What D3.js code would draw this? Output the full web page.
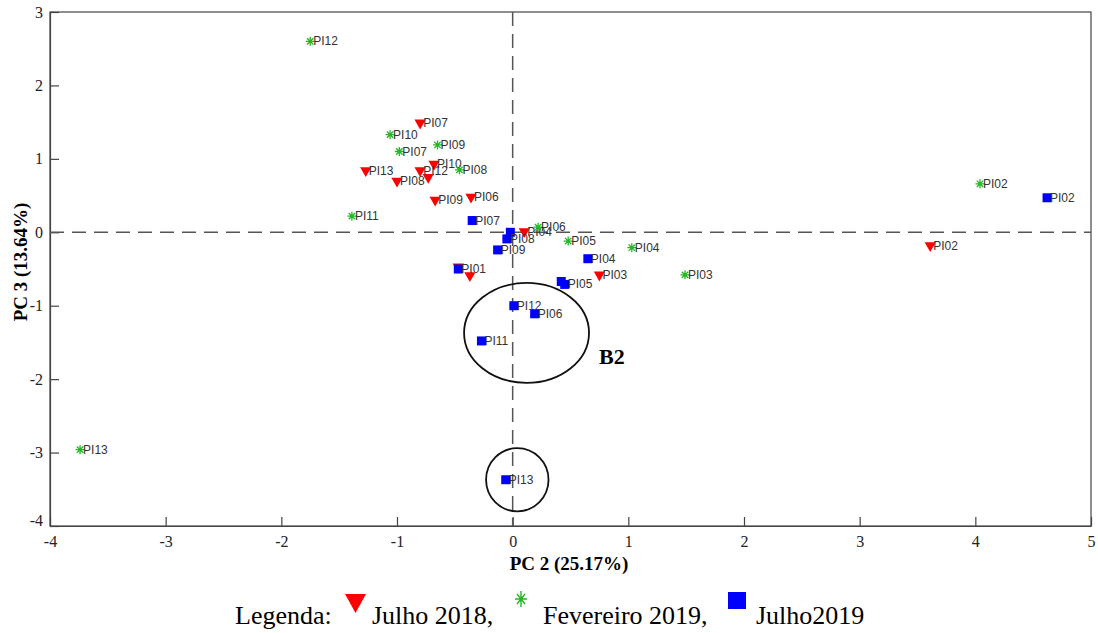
<!DOCTYPE html>
<html>
<head>
<meta charset="utf-8">
<script src="https://cdn.jsdelivr.net/npm/d3@7"></script>
<style>
  body { margin: 0; background: #fff; }
  text { font-family: "Liberation Serif", "Times New Roman", serif; }
  .lbl { font-family: "Liberation Sans", Arial, sans-serif; font-size: 12px; fill: #333; }
</style>
</head>
<body>
<div id="content"></div>
<script>
// PC2 / PC3 scores
var julho2018Names = ["PI01", "PI02", "PI03", "PI04", "PI05", "PI06", "PI07", "PI08", "PI09", "PI10", "PI11", "PI12", "PI13"];
var julho2018X = [-0.47, 3.61, 0.75, 0.10, -0.37, -0.36, -0.80, -1.00, -0.67, -0.68, -0.73, -0.80, -1.27];
var julho2018Y = [-0.47, -0.18, -0.58, 0.01, -0.59, 0.48, 1.49, 0.70, 0.44, 0.93, 0.75, 0.84, 0.84];
var julho2018Shown = [false, true, true, true, false, true, true, true, true, true, false, true, true];

var fev2019Names = ["PI02", "PI03", "PI04", "PI05", "PI06", "PI07", "PI08", "PI09", "PI10", "PI11", "PI12", "PI13"];
var fev2019X = [4.04, 1.49, 1.03, 0.48, 0.22, -0.98, -0.46, -0.65, -1.06, -1.39, -1.75, -3.74];
var fev2019Y = [0.66, -0.58, -0.21, -0.12, 0.07, 1.10, 0.85, 1.19, 1.33, 0.22, 2.60, -2.96];

var julho2019Names = ["PI01", "PI02", "PI03", "PI04", "PI05", "PI06", "PI07", "PI08", "PI09", "PI10", "PI11", "PI12", "PI13"];
var julho2019X = [-0.47, 4.62, 0.42, 0.65, 0.45, 0.19, -0.35, -0.05, -0.13, -0.02, -0.27, 0.01, -0.06];
var julho2019Y = [-0.50, 0.47, -0.67, -0.36, -0.71, -1.11, 0.16, -0.09, -0.24, 0.00, -1.48, -1.00, -3.37];
var julho2019Shown = [true, true, false, true, true, true, true, true, true, false, true, true, true];

var xTicks = [-4, -3, -2, -1, 0, 1, 2, 3, 4, 5];
var yTicks = [-4, -3, -2, -1, 0, 1, 2, 3];

// groups circled on the plot: [cx, cy, rx, ry] in data units
var groupNames = ["B2", ""];
var groupShapes = [[0.12, -1.37, 0.54, 0.68], [0.04, -3.37, 0.27, 0.43]];

var svg = d3.select("div#content").append("svg")
    .attr("width", 1098)
    .attr("height", 633);

var x = d3.scaleLinear().domain([-4, 5]).range([50, 1091]);
var y = d3.scaleLinear().domain([-4, 3]).range([526, 12]);

var fmt = function(d) { return String(d); };

// frame
svg.append("rect")
    .attr("x", x(-4)).attr("y", y(3))
    .attr("width", x(5) - x(-4)).attr("height", y(-4) - y(3))
    .attr("fill", "none").attr("stroke", "#444").attr("stroke-width", 1.2);

var xAxis = svg.append("g")
    .attr("transform", "translate(0," + y(-4) + ")")
    .call(d3.axisBottom(x).tickValues(xTicks).tickFormat(fmt).tickSizeInner(-9).tickSizeOuter(0).tickPadding(10));
var yAxis = svg.append("g")
    .attr("transform", "translate(" + x(-4) + ",0)")
    .call(d3.axisLeft(y).tickValues(yTicks).tickFormat(fmt).tickSizeInner(-9).tickSizeOuter(0).tickPadding(7));

[xAxis, yAxis].forEach(function(a) {
    a.attr("font-family", "'Liberation Serif', serif");
    a.select(".domain").attr("stroke", "#444").attr("stroke-width", 1.2);
    a.selectAll(".tick line").attr("stroke", "#444").attr("stroke-width", 1.2);
    a.selectAll(".tick text")
        .style("font-family", "'Liberation Serif', serif")
        .style("font-size", "16px")
        .attr("fill", "#222");
});
yAxis.selectAll(".tick text").filter(function(d) { return d === -4; }).attr("dy", "-0.05em");

// zero lines
svg.append("line")
    .attr("x1", x(-4)).attr("x2", x(5)).attr("y1", y(0)).attr("y2", y(0))
    .attr("stroke", "#555").attr("stroke-width", 1.5).attr("stroke-dasharray", "14,8");
svg.append("line")
    .attr("x1", x(0)).attr("x2", x(0)).attr("y1", y(3)).attr("y2", y(-4))
    .attr("stroke", "#555").attr("stroke-width", 1.5).attr("stroke-dasharray", "14,8");

// axis titles
svg.append("text")
    .attr("x", 569).attr("y", 570)
    .attr("text-anchor", "middle")
    .style("font-weight", "bold").style("font-size", "19px")
    .text("PC 2 (25.17%)");
svg.append("text")
    .attr("transform", "translate(27,262) rotate(-90)")
    .attr("text-anchor", "middle")
    .style("font-weight", "bold").style("font-size", "19px")
    .text("PC 3 (13.64%)");

// circled groups
svg.selectAll(".grp")
    .data(groupShapes)
    .enter().append("ellipse")
    .attr("class", "grp")
    .attr("cx", function(d) { return x(d[0]); })
    .attr("cy", function(d) { return y(d[1]); })
    .attr("rx", function(d) { return x(d[2]) - x(0); })
    .attr("ry", function(d) { return y(0) - y(d[3]); })
    .attr("fill", "none").attr("stroke", "#111").attr("stroke-width", 1.8);
svg.append("text")
    .attr("x", x(groupShapes[0][0] + groupShapes[0][2]) + 10)
    .attr("y", y(-1.8))
    .style("font-weight", "bold").style("font-size", "22px")
    .text(groupNames[0]);

var tri = d3.symbol().type(d3.symbolTriangle).size(55);
var star = "M0,-4.5V4.5M-4.5,0H4.5M-3.2,-3.2L3.2,3.2M-3.2,3.2L3.2,-3.2";

function addLabels(names, xs, ys, shown) {
    svg.append("g").selectAll("text")
        .data(names)
        .enter().append("text")
        .filter(function(d, i) { return !shown || shown[i]; })
        .attr("class", "lbl")
        .attr("x", function(d) { return x(xs[names.indexOf(d)]) + 3; })
        .attr("y", function(d) { return y(ys[names.indexOf(d)]) + 4; })
        .text(function(d) { return d; });
}

// Julho 2018
svg.append("g").selectAll("path")
    .data(julho2018Names)
    .enter().append("path")
    .attr("d", tri)
    .attr("transform", function(d, i) {
        return "translate(" + x(julho2018X[i]) + "," + y(julho2018Y[i]) + ") rotate(180)";
    })
    .attr("fill", "#f00");
addLabels(julho2018Names, julho2018X, julho2018Y, julho2018Shown);

// Fevereiro 2019
svg.append("g").selectAll("path")
    .data(fev2019Names)
    .enter().append("path")
    .attr("d", star)
    .attr("transform", function(d, i) {
        return "translate(" + x(fev2019X[i]) + "," + y(fev2019Y[i]) + ")";
    })
    .attr("stroke", "#22b822").attr("stroke-width", 1.3).attr("fill", "none");
addLabels(fev2019Names, fev2019X, fev2019Y, null);

// Julho2019
svg.append("g").selectAll("rect")
    .data(julho2019Names)
    .enter().append("rect")
    .attr("x", function(d, i) { return x(julho2019X[i]) - 4.5; })
    .attr("y", function(d, i) { return y(julho2019Y[i]) - 4.5; })
    .attr("width", 9).attr("height", 9)
    .attr("fill", "#00f");
addLabels(julho2019Names, julho2019X, julho2019Y, julho2019Shown);

// legend
var leg = svg.append("g").style("font-size", "26px");
leg.append("text").attr("x", 235).attr("y", 624).text("Legenda:");
leg.append("path").attr("d", "M345,594H366L355.5,613Z").attr("fill", "#f00");
leg.append("text").attr("x", 372).attr("y", 624).text("Julho 2018,");
leg.append("path").attr("d", "M521,591V607M515,599H527M517,594L525,604M517,604L525,594")
    .attr("stroke", "#22b822").attr("stroke-width", 1.4);
leg.append("text").attr("x", 543).attr("y", 624).text("Fevereiro 2019,");
leg.append("rect").attr("x", 728).attr("y", 592).attr("width", 18).attr("height", 17).attr("fill", "#00f");
leg.append("text").attr("x", 756).attr("y", 624).text("Julho2019");
</script>
</body>
</html>
